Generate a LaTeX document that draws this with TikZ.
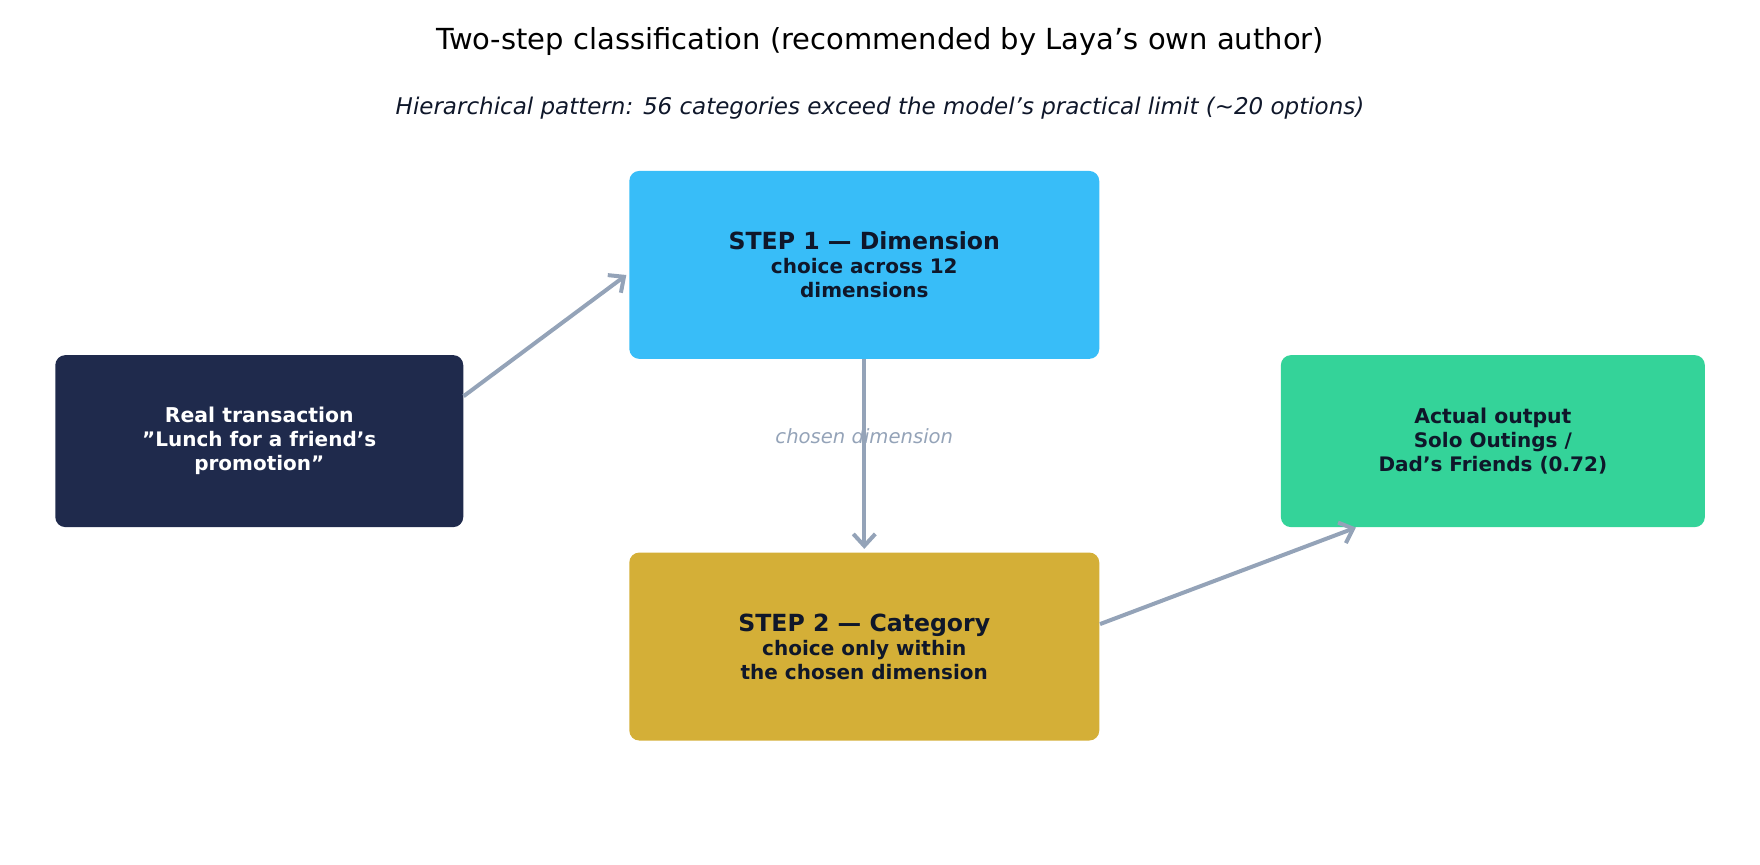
\documentclass[tikz,border=0pt]{standalone}
\usepackage{fontspec}
\setmainfont{DejaVu Sans}
\definecolor{navy}{HTML}{1F2A4C}
\definecolor{sky}{HTML}{38BDF8}
\definecolor{gold}{HTML}{D4AF37}
\definecolor{mint}{HTML}{34D399}
\definecolor{ink}{HTML}{0F172A}
\definecolor{slate}{HTML}{94A3B8}
\tikzset{box/.style={rounded corners=5pt,align=center,font=\bfseries,inner sep=0pt},
  flow/.style={draw=slate,line width=2pt,-{Straight Barb[length=6pt,width=11pt]}}}
\usetikzlibrary{arrows.meta}
\begin{document}
\begin{tikzpicture}[x=0.5613pt,y=-0.5613pt]
    \useasboundingbox (0,0) rectangle (1568,770);
    \node at (784,37) (title) {\fontsize{14.5}{17}\selectfont Two-step classification (recommended by Laya's own author)};
    \node at (784,96) (sub) [text=ink] {\fontsize{11.5}{14}\selectfont\itshape Hierarchical pattern: 56 categories exceed the model's practical limit (\textasciitilde20 options)};

    \node at (231,393) (tx) [box,fill=navy,text=white,minimum width=204pt,minimum height=86pt] {\fontsize{10.2}{12.5}\selectfont Real transaction\\"Lunch for a friend's\\promotion"};
    \node at (770,236) (s1) [box,fill=sky,text=ink,minimum width=235pt,minimum height=94pt] {\fontsize{11.8}{14.5}\selectfont STEP 1 — Dimension\\choice across 12\\dimensions};
    \node at (770,576) (s2) [box,fill=gold,text=ink,minimum width=235pt,minimum height=94pt] {\fontsize{11.8}{14.5}\selectfont STEP 2 — Category\\choice only within\\the chosen dimension};
    \node at (1330,393) (out) [box,fill=mint,text=ink,minimum width=212pt,minimum height=86pt] {\fontsize{10.2}{12.5}\selectfont Actual output\\Solo Outings /\\Dad's Friends (0.72)};
    \node at (770,389) (lbl) [text=slate] {\fontsize{9.8}{12}\selectfont\itshape chosen dimension};

    \draw[flow] (413,353) -- (558,245);
    \draw[flow] (s1) -- (770,489);
    \draw[flow] (980,556) -- (1208,470);
\end{tikzpicture}
\end{document}
